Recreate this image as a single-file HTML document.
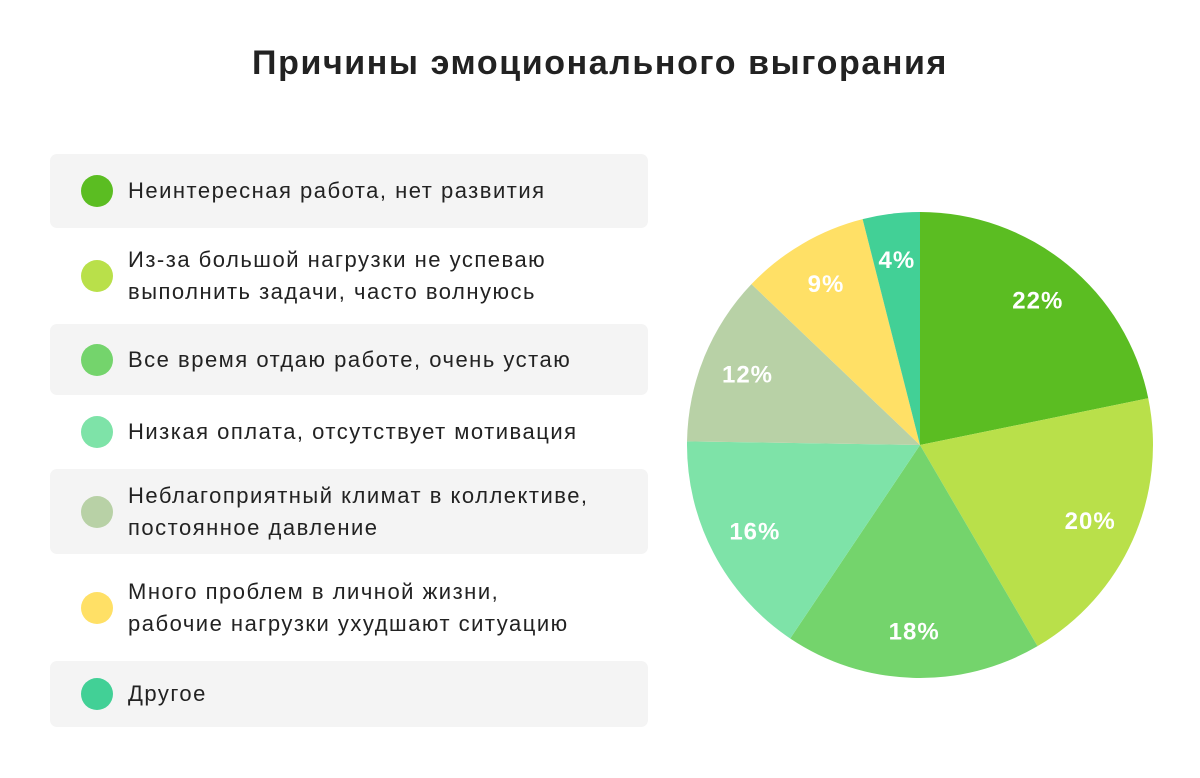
<!DOCTYPE html>
<html><head><meta charset="utf-8"><style>
body{margin:0;width:1200px;height:778px;background:#fff;font-family:"Liberation Sans","DejaVu Sans",sans-serif;position:relative;overflow:hidden}
h1{position:absolute;top:44px;left:0;width:1200px;text-align:center;margin:0;font-size:34px;letter-spacing:1.6px;font-weight:bold;color:#222}
.row{position:absolute;left:50px;width:598px;border-radius:7px}
.row.sh{background:#f4f4f4}
.dot{position:absolute;left:31px;width:32px;height:32px;border-radius:50%;top:50%;margin-top:-16px}
.txt{position:absolute;left:78px;top:50%;transform:translateY(-50%);font-size:22px;letter-spacing:1.5px;line-height:32px;color:#222;white-space:nowrap}
</style></head><body>
<h1>Причины эмоционального выгорания</h1>
<div id="legend"></div>
<svg id="pie" width="1200" height="778" style="position:absolute;left:0;top:0"></svg>
<script>
const categories=["Неинтересная работа, нет развития","Из-за большой нагрузки не успеваю<br>выполнить задачи, часто волнуюсь","Все время отдаю работе, очень устаю","Низкая оплата, отсутствует мотивация","Неблагоприятный климат в коллективе,<br>постоянное давление","Много проблем в личной жизни,<br>рабочие нагрузки ухудшают ситуацию","Другое"];
const values=[22,20,18,16,12,9,4];
const labels=["22%","20%","18%","16%","12%","9%","4%"];
const colors=["#5bbd22","#b9e04a","#74d46c","#7ee3a8","#b8d1a6","#ffe066","#42d096"];
const rowsY=[[154,228],[228,324],[324,395],[395,469],[469,554],[554,661],[661,727]];
const lg=document.getElementById('legend');
categories.forEach((c,i)=>{
 const r=document.createElement('div');
 r.className='row'+(i%2==0?' sh':'');
 r.style.top=rowsY[i][0]+'px';r.style.height=(rowsY[i][1]-rowsY[i][0])+'px';
 
 
 r.innerHTML='<div class="dot" style="background:'+colors[i]+'"></div><div class="txt">'+c+'</div>';
 lg.appendChild(r);
});
const svg=document.getElementById('pie');const NS='http://www.w3.org/2000/svg';
const cx=920,cy=445,R=233;
const total=values.reduce((a,b)=>a+b,0);
let a0=0;
values.forEach((v,i)=>{
 const a1=a0+v/total*2*Math.PI;
 const p=(a)=>[cx+R*Math.sin(a),cy-R*Math.cos(a)];
 const [x0,y0]=p(a0),[x1,y1]=p(a1);
 const path=document.createElementNS(NS,'path');
 path.setAttribute('d',`M${cx},${cy} L${x0},${y0} A${R},${R} 0 ${a1-a0>Math.PI?1:0} 1 ${x1},${y1} Z`);
 path.setAttribute('fill',colors[i]);
 
 
 svg.appendChild(path);
 const am=(a0+a1)/2,lr=R*0.8;
 const t=document.createElementNS(NS,'text');
 t.setAttribute('x',cx+lr*Math.sin(am));t.setAttribute('y',cy-lr*Math.cos(am)+8);
 t.setAttribute('text-anchor','middle');t.setAttribute('fill','#fff');
 t.setAttribute('font-size','24');t.setAttribute('font-weight','bold');
 t.setAttribute('letter-spacing','1');
 t.setAttribute('font-family','Liberation Sans, sans-serif');
 t.textContent=labels[i];
 
 
 svg.appendChild(t);
 a0=a1;
});
</script>
</body></html>
